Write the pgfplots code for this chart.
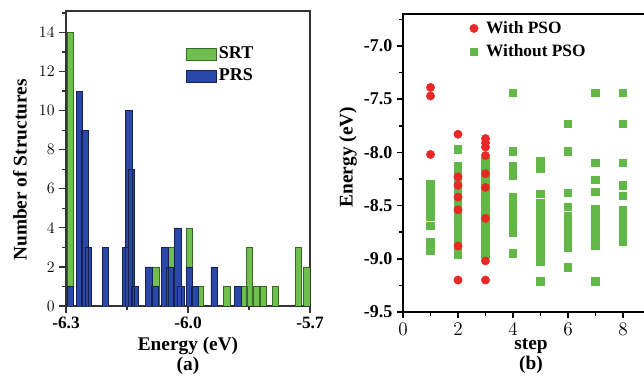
\documentclass[border=0pt]{standalone}
\usepackage{fontspec}
\setmainfont{Liberation Serif}
\usepackage{pgfplots}
\pgfplotsset{compat=1.18}
\definecolor{srt}{RGB}{112,190,78}
\definecolor{srtedge}{RGB}{55,105,40}
\definecolor{prs}{RGB}{42,72,168}
\definecolor{prsedge}{RGB}{22,32,85}
\definecolor{pso}{RGB}{232,40,38}
\definecolor{nopso}{RGB}{98,184,70}
\pgfplotsset{
  rectlegend/.style={legend image code/.code={\draw[##1] (0pt,-4.5pt) rectangle (22pt,4.5pt);}},
  marklegend/.style={legend image code/.code={\draw[##1,mark repeat=1] plot coordinates {(4pt,0pt)}; \path (0pt,0pt) (11pt,0pt);}},
}
\begin{document}
\begin{tikzpicture}
\useasboundingbox (0,0) rectangle (483pt,282.75pt);
% ---------------- panel (a)
\begin{axis}[
  at={(49.5pt,53.25pt)}, anchor=south west, scale only axis,
  width=183pt, height=221.25pt,
  xmin=-6.3, xmax=-5.7, ymin=0, ymax=15.1,
  xtick={-6.3,-6.0,-5.7}, xticklabels={-6.3,-6.0,-5.7},
  minor xtick={-6.15,-5.85},
  ytick={0,2,4,6,8,10,12,14}, minor ytick={1,3,5,7,9,11,13,15},
  tick align=outside, tick pos=left,
  major tick length=5pt, minor tick length=3pt,
  axis line style={black!80, line width=0.9pt},
  tick style={black!80, line width=0.9pt},
  ticklabel style={font=\bfseries\fontsize{13}{14}\selectfont},
  ylabel={Number of Structures},
  ylabel style={at={(axis description cs:-0.189,0.461)}, anchor=center, inner sep=0pt, font=\bfseries\fontsize{14.5}{15.5}\selectfont},
  xlabel={Energy (eV)\\(a)},
  xlabel style={at={(axis description cs:0.5,-0.17)}, anchor=center, align=center, inner sep=0pt, font=\bfseries\fontsize{14.5}{15}\selectfont},
  legend style={at={(axis description cs:0.492,0.888)}, anchor=north west, draw=none, fill=none,
    font=\bfseries\fontsize{13.5}{14}\selectfont, row sep=2pt, inner sep=0pt},
  legend cell align=left,
]
\addplot[ybar, bar width=0.016, bar shift=0pt, fill=srt, draw=srtedge, line width=0.5pt, rectlegend] coordinates {
(-6.2894,14) (-6.0787,2) (-6.0411,3) (-5.9968,4) (-5.9705,1) (-5.9048,1)
(-5.8623,1) (-5.8493,3) (-5.8311,1) (-5.8156,1) (-5.7853,1) (-5.7288,3) (-5.7074,2)
};
\addlegendentry{SRT}
\addplot[ybar, bar width=0.016, bar shift=0pt, fill=prs, draw=prsedge, line width=0.5pt, rectlegend] coordinates {
(-6.2894,1) (-6.2673,11) (-6.2533,9) (-6.2452,3) (-6.2029,3) (-6.1537,3) (-6.1456,10)
(-6.1394,7) (-6.1303,1) (-6.0959,2) (-6.0811,1) (-6.0566,3) (-6.0443,2) (-6.0253,4)
(-6.0172,1) (-5.9968,2) (-5.9835,1) (-5.9356,2) (-5.8778,1)
};
\addlegendentry{PRS}
\end{axis}
% ---------------- panel (b)
\begin{axis}[
  at={(302.25pt,48.75pt)}, anchor=south west, scale only axis,
  width=185.625pt, height=223.5pt,
  xmin=0, xmax=9, ymin=-9.5, ymax=-6.7,
  xtick={0,2,4,6,8}, minor xtick={1,3,5,7},
  ytick={-9.5,-9.0,-8.5,-8.0,-7.5,-7.0}, yticklabels={-9.5,-9.0,-8.5,-8.0,-7.5,-7.0},
  minor ytick={-9.25,-8.75,-8.25,-7.75,-7.25,-6.75},
  tick align=outside, tick pos=left,
  major tick length=4.5pt, minor tick length=3pt,
  axis line style={black, line width=1.4pt},
  tick style={black, line width=1.2pt},
  ticklabel style={font=\bfseries\fontsize{13.5}{14}\selectfont},
  ylabel={Energy (eV)},
  ylabel style={at={(axis description cs:-0.222,0.52)}, anchor=center, inner sep=0pt, font=\bfseries\fontsize{14.5}{15.5}\selectfont},
  xlabel={step\\(b)},
  xlabel style={at={(axis description cs:0.517,-0.148)}, anchor=center, align=center, inner sep=0pt, font=\bfseries\fontsize{14.5}{15}\selectfont},
  legend style={at={(axis description cs:0.263,0.985)}, anchor=north west, draw=none, fill=none,
    font=\bfseries\fontsize{13}{13.5}\selectfont, row sep=3pt, inner sep=0pt},
  legend cell align=left, reverse legend,
]
\addplot[only marks, mark=square*, mark size=2.8pt, color=nopso, marklegend] coordinates {
(1,-8.30) (1,-8.35) (1,-8.40) (1,-8.45) (1,-8.50) (1,-8.55) (1,-8.60) (1,-8.69) (1,-8.84) (1,-8.88) (1,-8.92)
(2,-7.97) (2,-8.13) (2,-8.18) (2,-8.24) (2,-8.30) (2,-8.36) (2,-8.42) (2,-8.48) (2,-8.53) (2,-8.58) (2,-8.63) (2,-8.68) (2,-8.73) (2,-8.78) (2,-8.83) (2,-8.88) (2,-8.93) (2,-8.96)
(3,-8.08) (3,-8.13) (3,-8.18) (3,-8.23) (3,-8.28) (3,-8.33) (3,-8.38) (3,-8.43) (3,-8.48) (3,-8.53) (3,-8.58) (3,-8.63) (3,-8.68) (3,-8.73) (3,-8.78) (3,-8.83) (3,-8.88) (3,-8.93) (3,-8.96)
(4,-7.44) (4,-7.99) (4,-8.13) (4,-8.18) (4,-8.22) (4,-8.42) (4,-8.50) (4,-8.55) (4,-8.60) (4,-8.65) (4,-8.70) (4,-8.75) (4,-8.95)
(5,-8.08) (5,-8.15) (5,-8.39) (5,-8.48) (5,-8.53) (5,-8.58) (5,-8.63) (5,-8.68) (5,-8.73) (5,-8.78) (5,-8.83) (5,-8.88) (5,-8.93) (5,-8.98) (5,-9.03) (5,-9.21)
(6,-7.73) (6,-7.99) (6,-8.38) (6,-8.51) (6,-8.60) (6,-8.65) (6,-8.70) (6,-8.75) (6,-8.80) (6,-8.85) (6,-8.89) (6,-9.08)
(7,-7.44) (7,-8.10) (7,-8.26) (7,-8.37) (7,-8.53) (7,-8.58) (7,-8.63) (7,-8.68) (7,-8.73) (7,-8.78) (7,-8.83) (7,-8.88) (7,-9.21)
(8,-7.44) (8,-7.73) (8,-8.10) (8,-8.31) (8,-8.41) (8,-8.54) (8,-8.59) (8,-8.64) (8,-8.69) (8,-8.74) (8,-8.79) (8,-8.84)
};
\addlegendentry{Without PSO}
\addplot[only marks, mark=*, mark size=3.1pt, color=pso, marklegend] coordinates {
(1,-7.39) (1,-7.47) (1,-8.02)
(2,-7.83) (2,-8.23) (2,-8.31) (2,-8.42) (2,-8.54) (2,-8.88) (2,-9.20)
(3,-7.87) (3,-7.91) (3,-7.95) (3,-8.03) (3,-8.20) (3,-8.33) (3,-8.62) (3,-9.02) (3,-9.20)
};
\addlegendentry{With PSO}
\end{axis}
\end{tikzpicture}
\end{document}
